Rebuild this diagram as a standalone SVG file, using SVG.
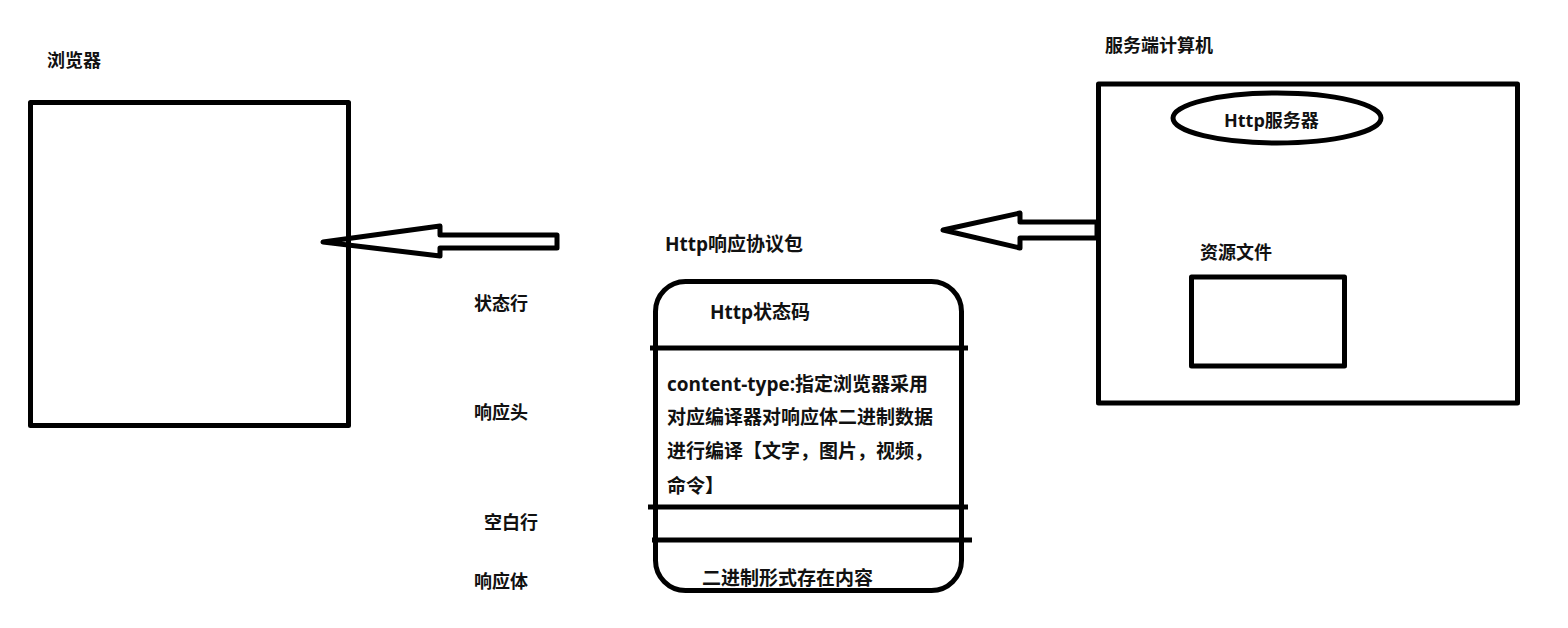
<svg xmlns="http://www.w3.org/2000/svg" width="1568" height="628" viewBox="0 0 1568 628">
<style>
text{font-family:"Open Sans","Noto Sans CJK SC",sans-serif;font-weight:bold;font-size:18px;fill:#111}
.b{font-size:19px}
.s{fill:none;stroke:#000;stroke-width:5;stroke-linejoin:round}
</style>
<rect width="1568" height="628" fill="#fff"/>
<g id="browser">
<text x="47" y="67">浏览器</text>
<rect class="s" x="30.5" y="102.5" width="318" height="323"/>
</g>
<g id="server">
<text x="1105" y="52">服务端计算机</text>
<rect class="s" x="1098.5" y="84" width="419" height="319"/>
<ellipse class="s" cx="1277" cy="118" rx="104" ry="25"/>
<text x="1224" y="127">Http服务器</text>
<text x="1200" y="259">资源文件</text>
<rect class="s" x="1191.5" y="277" width="153" height="89"/>
</g>
<g id="response">
<text class="b" x="665" y="251">Http响应协议包</text>
<rect class="s" x="655.5" y="281.5" width="306" height="309" rx="30" ry="30" stroke-width="6"/>
<text class="b" x="710" y="319">Http状态码</text>
<text class="b" x="667" y="391">content-type:指定浏览器采用</text>
<text class="b" x="667" y="424">对应编译器对响应体二进制数据</text>
<text class="b" x="667" y="458">进行编译【文字，图片，视频，</text>
<text class="b" x="667" y="493">命令】</text>
<text class="b" x="702" y="585">二进制形式存在内容</text>
</g>
<g id="labels">
<text x="474" y="310">状态行</text>
<text x="474" y="419">响应头</text>
<text x="484" y="529">空白行</text>
<text x="474" y="588">响应体</text>
</g>
<g id="connectors">
<polygon class="s" points="323,242 440,226 440,235 557,235 557,248 440,248 440,256"/>
<polygon class="s" points="943,230 1020,213 1020,222 1097,222 1097,238 1020,238 1020,248"/>
<line x1="650" y1="348" x2="968" y2="348" stroke="#000" stroke-width="5"/>
<line x1="648" y1="507" x2="968" y2="507" stroke="#000" stroke-width="5"/>
<line x1="652" y1="540" x2="972" y2="540" stroke="#000" stroke-width="5"/>
</g>
</svg>
